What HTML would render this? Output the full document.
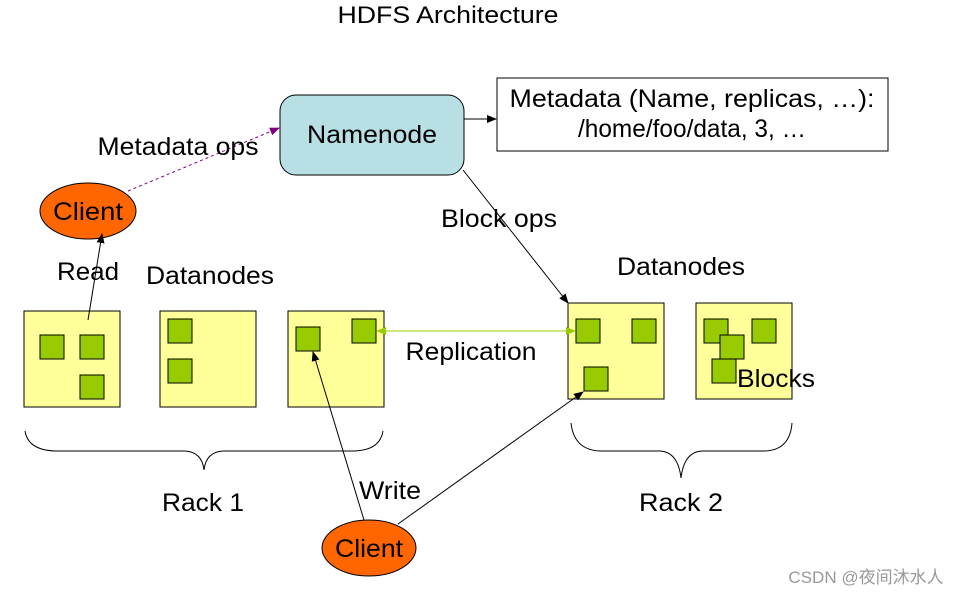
<!DOCTYPE html>
<html><head><meta charset="utf-8"><style>
body{margin:0;background:#fff}
svg text{font-family:"Liberation Sans","Noto Sans CJK SC",sans-serif;fill:#000}
</style></head><body>
<svg width="967" height="596" viewBox="0 0 967 596" xmlns="http://www.w3.org/2000/svg">
<defs>
<marker id="a" markerWidth="10" markerHeight="8" refX="9" refY="4" orient="auto" markerUnits="userSpaceOnUse"><path d="M0,0 L10,4 L0,8z" fill="#000"/></marker>
<marker id="p" markerWidth="10" markerHeight="8" refX="9" refY="4" orient="auto" markerUnits="userSpaceOnUse"><path d="M0,0 L10,4 L0,8z" fill="#800080"/></marker>
<marker id="g" markerWidth="10" markerHeight="8" refX="9" refY="4" orient="auto-start-reverse" markerUnits="userSpaceOnUse"><path d="M0,0 L10,4 L0,8z" fill="#99cc00"/></marker>
</defs>
<text x="448" y="23" font-size="24" text-anchor="middle" textLength="221" lengthAdjust="spacingAndGlyphs">HDFS Architecture</text>
<rect x="280" y="95" width="184" height="80" rx="16" fill="#b8dfe3" stroke="#000"/>
<text x="372" y="143" font-size="25" text-anchor="middle" textLength="130" lengthAdjust="spacingAndGlyphs">Namenode</text>
<rect x="497" y="78" width="391" height="73" fill="#fff" stroke="#000"/>
<text x="692" y="107" font-size="25" text-anchor="middle" textLength="365" lengthAdjust="spacingAndGlyphs">Metadata (Name, replicas, …):</text>
<text x="692" y="137" font-size="25" text-anchor="middle" textLength="228" lengthAdjust="spacingAndGlyphs">/home/foo/data, 3, …</text>
<line x1="464" y1="119" x2="496" y2="119" stroke="#000" marker-end="url(#a)"/>
<ellipse cx="88" cy="211" rx="48" ry="28" fill="#ff6600" stroke="#000"/>
<text x="88" y="220" font-size="25" text-anchor="middle" textLength="70" lengthAdjust="spacingAndGlyphs">Client</text>
<line x1="128" y1="191" x2="279" y2="128" stroke="#800080" stroke-dasharray="3,3" marker-end="url(#p)"/>
<text x="178" y="155" font-size="25" text-anchor="middle" textLength="161" lengthAdjust="spacingAndGlyphs">Metadata ops</text>
<text x="499" y="227" font-size="25" text-anchor="middle" textLength="116" lengthAdjust="spacingAndGlyphs">Block ops</text>
<line x1="463" y1="170" x2="568" y2="303" stroke="#000" marker-end="url(#a)"/>
<text x="88" y="280" font-size="25" text-anchor="middle" textLength="62" lengthAdjust="spacingAndGlyphs">Read</text>
<text x="210" y="284" font-size="25" text-anchor="middle" textLength="128" lengthAdjust="spacingAndGlyphs">Datanodes</text>
<text x="681" y="275" font-size="25" text-anchor="middle" textLength="128" lengthAdjust="spacingAndGlyphs">Datanodes</text>
<g fill="#ffff99" stroke="#000">
<rect x="24" y="311" width="96" height="96"/>
<rect x="160" y="311" width="96" height="96"/>
<rect x="288" y="311" width="96" height="96"/>
<rect x="568" y="303" width="96" height="96"/>
<rect x="696" y="303" width="96" height="96"/>
</g>
<g fill="#99cc00" stroke="#000">
<rect x="40" y="335" width="24" height="24"/><rect x="80" y="335" width="24" height="24"/><rect x="80" y="375" width="24" height="24"/>
<rect x="168" y="319" width="24" height="24"/><rect x="168" y="359" width="24" height="24"/>
<rect x="296" y="327" width="24" height="24"/><rect x="352" y="319" width="24" height="24"/>
<rect x="576" y="319" width="24" height="24"/><rect x="632" y="319" width="24" height="24"/><rect x="584" y="367" width="24" height="24"/>
<rect x="704" y="319" width="24" height="24"/><rect x="752" y="319" width="24" height="24"/><rect x="720" y="335" width="24" height="24"/><rect x="712" y="359" width="24" height="24"/>
</g>
<text x="776" y="387" font-size="25" text-anchor="middle" textLength="78" lengthAdjust="spacingAndGlyphs">Blocks</text>
<line x1="88" y1="320" x2="102" y2="234" stroke="#000" marker-end="url(#a)"/>
<line x1="377" y1="331" x2="575" y2="331" stroke="#99cc00" marker-start="url(#g)" marker-end="url(#g)"/>
<text x="471" y="360" font-size="25" text-anchor="middle" textLength="131" lengthAdjust="spacingAndGlyphs">Replication</text>
<path d="M25,431 Q28,450 55,451 L185,451 Q202,452 204,470 Q206,452 223,451 L355,451 Q380,450 383,431" fill="none" stroke="#000"/>
<path d="M571,423 Q574,450 600,451 L660,451 Q678,452 681,478 Q684,452 702,451 L765,451 Q790,450 792,423" fill="none" stroke="#000"/>
<text x="203" y="511" font-size="25" text-anchor="middle" textLength="82" lengthAdjust="spacingAndGlyphs">Rack 1</text>
<text x="681" y="511" font-size="25" text-anchor="middle" textLength="84" lengthAdjust="spacingAndGlyphs">Rack 2</text>
<text x="390" y="499" font-size="25" text-anchor="middle" textLength="62" lengthAdjust="spacingAndGlyphs">Write</text>
<line x1="364" y1="520" x2="313" y2="352" stroke="#000" marker-end="url(#a)"/>
<line x1="398" y1="524" x2="583" y2="392" stroke="#000" marker-end="url(#a)"/>
<ellipse cx="369" cy="548" rx="47" ry="28" fill="#ff6600" stroke="#000"/>
<text x="369" y="557" font-size="25" text-anchor="middle" textLength="68" lengthAdjust="spacingAndGlyphs">Client</text>
<text x="866" y="583" font-size="17" text-anchor="middle" style="fill:#999">CSDN @夜间沐水人</text>
</svg>
</body></html>
